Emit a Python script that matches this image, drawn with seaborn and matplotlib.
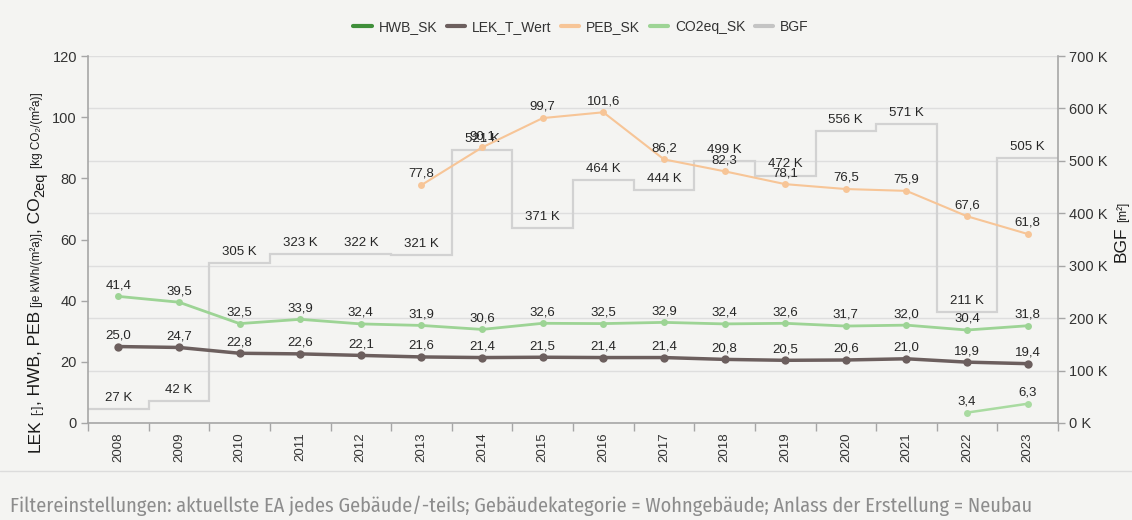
import numpy as np
import pandas as pd
import matplotlib
matplotlib.use("Agg")
import matplotlib.pyplot as plt
import seaborn as sns
from matplotlib.lines import Line2D
from matplotlib.ticker import FixedLocator, FuncFormatter
from matplotlib import font_manager as fm

# ---------------- data ----------------
years = ["2008", "2009", "2010", "2011", "2012", "2013", "2014", "2015",
         "2016", "2017", "2018", "2019", "2020", "2021", "2022", "2023"]
lek = [25.0, 24.7, 22.8, 22.6, 22.1, 21.6, 21.4, 21.5, 21.4, 21.4, 20.8, 20.5, 20.6, 21.0, 19.9, 19.4]
co2 = [41.4, 39.5, 32.5, 33.9, 32.4, 31.9, 30.6, 32.6, 32.5, 32.9, 32.4, 32.6, 31.7, 32.0, 30.4, 31.8]
peb = [np.nan, np.nan, np.nan, np.nan, np.nan, 77.8, 90.1, 99.7, 101.6, 86.2, 82.3, 78.1, 76.5, 75.9, 67.6, 61.8]
hwb = [np.nan] * 14 + [3.4, 6.3]
bgf_k = [27, 42, 305, 323, 322, 321, 521, 371, 464, 444, 499, 472, 556, 571, 211, 505]

legend_labels = ["HWB_SK", "LEK_T_Wert", "PEB_SK", "CO2eq_SK", "BGF"]
footer = ("Filtereinstellungen: aktuellste EA jedes Gebäude/-teils; "
          "Gebäudekategorie = Wohngebäude; Anlass der Erstellung = Neubau")

# ---------------- style ----------------
C_HWB_LEG = "#3f8f3a"
C_HWB = "#a9dba1"
C_LEK = "#6c5f5e"
C_PEB = "#f7c597"
C_CO2 = "#9dd495"
C_BGF = "#d2d2d2"
C_BGF_LEG = "#c4c4c4"
BG = "#f4f4f2"
SPINE = "#a6a6a6"
TXT = "#262626"

sns.set_theme(style="white")
plt.rcParams["font.family"] = ["Liberation Sans", "DejaVu Sans"]

W, H = 1132, 520
fig = plt.figure(figsize=(W / 100, H / 100), dpi=100, facecolor=BG)
ax = fig.add_axes([88 / W, 97 / H, 970 / W, 367 / H])
ax2 = ax.twinx()
ax.set_zorder(ax2.get_zorder() + 1)
ax.patch.set_visible(False)
ax2.set_facecolor(BG)

x = np.arange(len(years))
df = pd.DataFrame({"x": x, "LEK": lek, "CO2": co2, "PEB": peb, "HWB": hwb})

# ---------------- BGF step (right axis) ----------------
edges = np.arange(len(bgf_k) + 1) - 0.5
ax2.stairs(bgf_k, edges, baseline=None, color=C_BGF, lw=1.6)
ax2.set_ylim(0, 700)
ax2.yaxis.set_major_locator(FixedLocator(range(0, 701, 100)))
ax2.yaxis.set_major_formatter(FuncFormatter(lambda v, p: f"{int(v)} K"))
ax2.grid(axis="y", color="#dedede", lw=1)
ax2.grid(axis="x", visible=False)
for xi, v in zip(x, bgf_k):
    ax2.annotate(f"{v} K", (xi, v), xytext=(0, 8), textcoords="offset points",
                 ha="center", va="center", fontsize=9.5, color=TXT)

# ---------------- lines (left axis) ----------------
def line(col, color, lw, ms):
    sub = df.dropna(subset=[col])
    sns.lineplot(data=sub, x="x", y=col, ax=ax, color=color, lw=lw,
                 marker="o", markersize=ms, markeredgewidth=0, legend=False)
    for xi, v in zip(sub["x"], sub[col]):
        ax.annotate(f"{v:.1f}".replace(".", ","), (xi, v), xytext=(0, 8),
                    textcoords="offset points", ha="center", va="center",
                    fontsize=9.5, color=TXT)

line("PEB", C_PEB, 1.5, 5)
line("CO2", C_CO2, 2.0, 5)
line("LEK", C_LEK, 2.5, 6)
line("HWB", C_HWB, 1.8, 5)

ax.set_xlim(-0.5, len(years) - 0.5)
ax.set_ylim(0, 120)
ax.set_yticks(range(0, 121, 20))
ax.set_xlabel("")
ax.set_ylabel("")
ax.xaxis.set_major_locator(FixedLocator(edges))
ax.xaxis.set_major_formatter(FuncFormatter(lambda v, p: ""))
ax.set_xticks(x, minor=True)
ax.set_xticklabels(years, minor=True, rotation=90, fontsize=9.5, color="#333333")
ax.tick_params(axis="x", which="major", length=6, width=1, color=SPINE, direction="out", bottom=True)
ax.tick_params(axis="x", which="minor", length=0, pad=7)
ax.tick_params(axis="y", length=5, width=1, color=SPINE, labelsize=10.5, labelcolor="#333333", pad=3, left=True)
ax2.tick_params(axis="y", length=5, width=1, color=SPINE, labelsize=10.5, labelcolor="#333333", pad=3, right=True)
ax.grid(False)

for a in (ax, ax2):
    for s in a.spines.values():
        s.set_visible(False)
ax.spines["left"].set_visible(True)
ax.spines["bottom"].set_visible(True)
ax2.spines["right"].set_visible(True)
for s in (ax.spines["left"], ax.spines["bottom"], ax2.spines["right"]):
    s.set_color(SPINE)
    s.set_linewidth(1.2)

# ---------------- legend ----------------
handles = [Line2D([], [], color=c, lw=3) for c in (C_HWB_LEG, C_LEK, C_PEB, C_CO2, C_BGF_LEG)]
fig.legend(handles, legend_labels, loc="center", bbox_to_anchor=(581 / W, 1 - 27 / H),
           ncol=5, frameon=False, fontsize=10, handlelength=1.3, handletextpad=0.5,
           columnspacing=0.7, labelcolor="#333333")

# ---------------- rotated axis titles ----------------
fig.canvas.draw()
renderer = fig.canvas.get_renderer()

def rotated_pieces(x_base, y_start, pieces):
    y = y_start
    for text, size, dx, gap in pieces:
        t = fig.text((x_base + dx) / W, 1 - y / H, text, rotation=90, rotation_mode="anchor",
                     ha="left", va="baseline", fontsize=size, color="#1a1a1a")
        bb = t.get_window_extent(renderer)
        y -= bb.height + gap

BIG, SMALL = 12.5, 8.5
rotated_pieces(40, 452, [
    ("LEK", BIG, 0, 4),
    ("[-]", SMALL, 0, 0),
    (", HWB, PEB", BIG, 0, 4),
    ("[je kWh/(m²a)]", SMALL, 0, 0),
    (", CO", BIG, 0, 0),
    ("2eq", 10.5, 4, 5),
    ("[kg CO₂/(m²a)]", SMALL, 0, 0),
])
rotated_pieces(1126, 262, [
    ("BGF", BIG, 0, 4),
    ("[m²]", SMALL, 0, 0),
])

# ---------------- separator + footer ----------------
fig.add_artist(Line2D([0, 1], [1 - 471 / H, 1 - 471 / H], transform=fig.transFigure,
                      color="#dcdcdc", lw=1))
avail = {f.name for f in fm.fontManager.ttflist}
fam = "DejaVu Sans"
for cand in ["Fira Sans Condensed", "Roboto Condensed", "Liberation Sans Narrow",
             "Open Sans Condensed", "Roboto", "Open Sans"]:
    if cand in avail:
        fam = cand
        break
ft = fig.text(10 / W, 1 - 506 / H, footer, ha="left", va="center", fontsize=11.5,
              color="#8c8c8c", family=fam)
w = ft.get_window_extent(renderer).width
ft.set_fontsize(11.5 * 1025 / w)

fig.savefig("out.png", dpi=100, facecolor=BG)
